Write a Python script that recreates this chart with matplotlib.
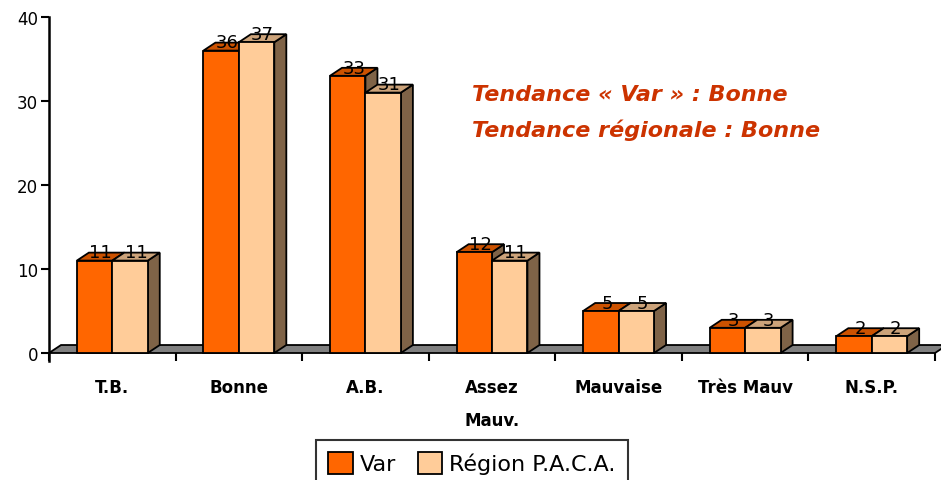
import matplotlib
matplotlib.use("Agg")
import matplotlib.pyplot as plt
from matplotlib.patches import Polygon, Patch
import numpy as np

categories = ["T.B.", "Bonne", "A.B.", "Assez\nMauv.", "Mauvaise", "Très Mauv", "N.S.P."]
var_vals = [11, 36, 33, 12, 5, 3, 2]
paca_vals = [11, 37, 31, 11, 5, 3, 2]
series_names = ["Var", "Région P.A.C.A."]
yticks = [0, 10, 20, 30, 40]
note_lines = ["Tendance « Var » : Bonne", "Tendance régionale : Bonne"]

FRONT = ["#FF6600", "#FFCC99"]
TOP = ["#CC5200", "#CCA37A"]
SIDE = "#7F6347"
FLOOR = "#808080"
NOTE = "#CC3300"

W = 0.28      # bar width (category units)
DX = 0.095    # depth offset, x
DY = 0.95     # depth offset, y
LW = 1.3

plt.rcParams["font.family"] = ["DejaVu Sans"]

fig = plt.figure(figsize=(9.41, 4.81), dpi=100)
ax = fig.add_axes([49 / 941, 127 / 481, 886 / 941, 336 / 481])
ax.set_xlim(-0.5, 6.5)
ax.set_ylim(0, 40)
for s in ax.spines.values():
    s.set_visible(False)

# floor
n = len(categories)
ax.add_patch(Polygon([(-0.5, 0), (n - 0.5, 0), (n - 0.5 + DX, DY), (-0.5 + DX, DY)],
                     closed=True, facecolor=FLOOR, edgecolor="k", lw=LW, clip_on=False, zorder=1))


def bar3d(x0, h, i):
    x1 = x0 + W
    side = Polygon([(x1, 0), (x1 + DX, DY), (x1 + DX, h + DY), (x1, h)],
                   facecolor=SIDE, edgecolor="k", lw=LW, clip_on=False, zorder=2)
    top = Polygon([(x0, h), (x1, h), (x1 + DX, h + DY), (x0 + DX, h + DY)],
                  facecolor=TOP[i], edgecolor="k", lw=LW, clip_on=False, zorder=2)
    front = Polygon([(x0, 0), (x1, 0), (x1, h), (x0, h)],
                    facecolor=FRONT[i], edgecolor="k", lw=LW, clip_on=False, zorder=2)
    for p in (side, top, front):
        ax.add_patch(p)
    ax.text(x0 + W / 2 + DX / 2, h + DY / 2 + 0.5, str(h), ha="center", va="center",
            fontsize=13, color="k", zorder=5)


for c, (v, p) in enumerate(zip(var_vals, paca_vals)):
    bar3d(c - W, v, 0)
    bar3d(c, p, 1)

# y axis
ax.plot([-0.5, -0.5], [-1.0, 40], color="k", lw=1.8, clip_on=False, zorder=3)
ax.set_yticks(yticks)
ax.tick_params(axis="y", length=6, width=1.5, labelsize=12, pad=2)

# x axis
ax.set_xticks(range(n))
ax.set_xticklabels(categories, fontsize=12, fontweight="bold")
ax.set_xticks(np.arange(-0.5, n), minor=True)
ax.tick_params(axis="x", which="major", length=0, pad=18)
ax.tick_params(axis="x", which="minor", length=6, width=1.5, direction="out")
for lbl in ax.get_xticklabels():
    lbl.set_linespacing(2.1)

# trend note
fig.text(472 / 941, 1 - 95 / 481, note_lines[0], fontsize=16, fontweight="bold",
         style="italic", color=NOTE, ha="left", va="center")
fig.text(472 / 941, 1 - 130 / 481, note_lines[1], fontsize=16, fontweight="bold",
         style="italic", color=NOTE, ha="left", va="center")

handles = [Patch(facecolor=FRONT[i], edgecolor="k", lw=LW) for i in range(2)]
leg = fig.legend(handles, series_names, loc="upper left",
                 bbox_to_anchor=(316 / 941, 1 - 441 / 481), ncol=2, frameon=True,
                 fancybox=False, edgecolor="k", fontsize=16, handlelength=1.1,
                 handleheight=1.1, handletextpad=0.3, columnspacing=1.0,
                 borderpad=0.55, borderaxespad=0)
leg.get_frame().set_linewidth(1.5)

fig.savefig("out.png", dpi=100)
